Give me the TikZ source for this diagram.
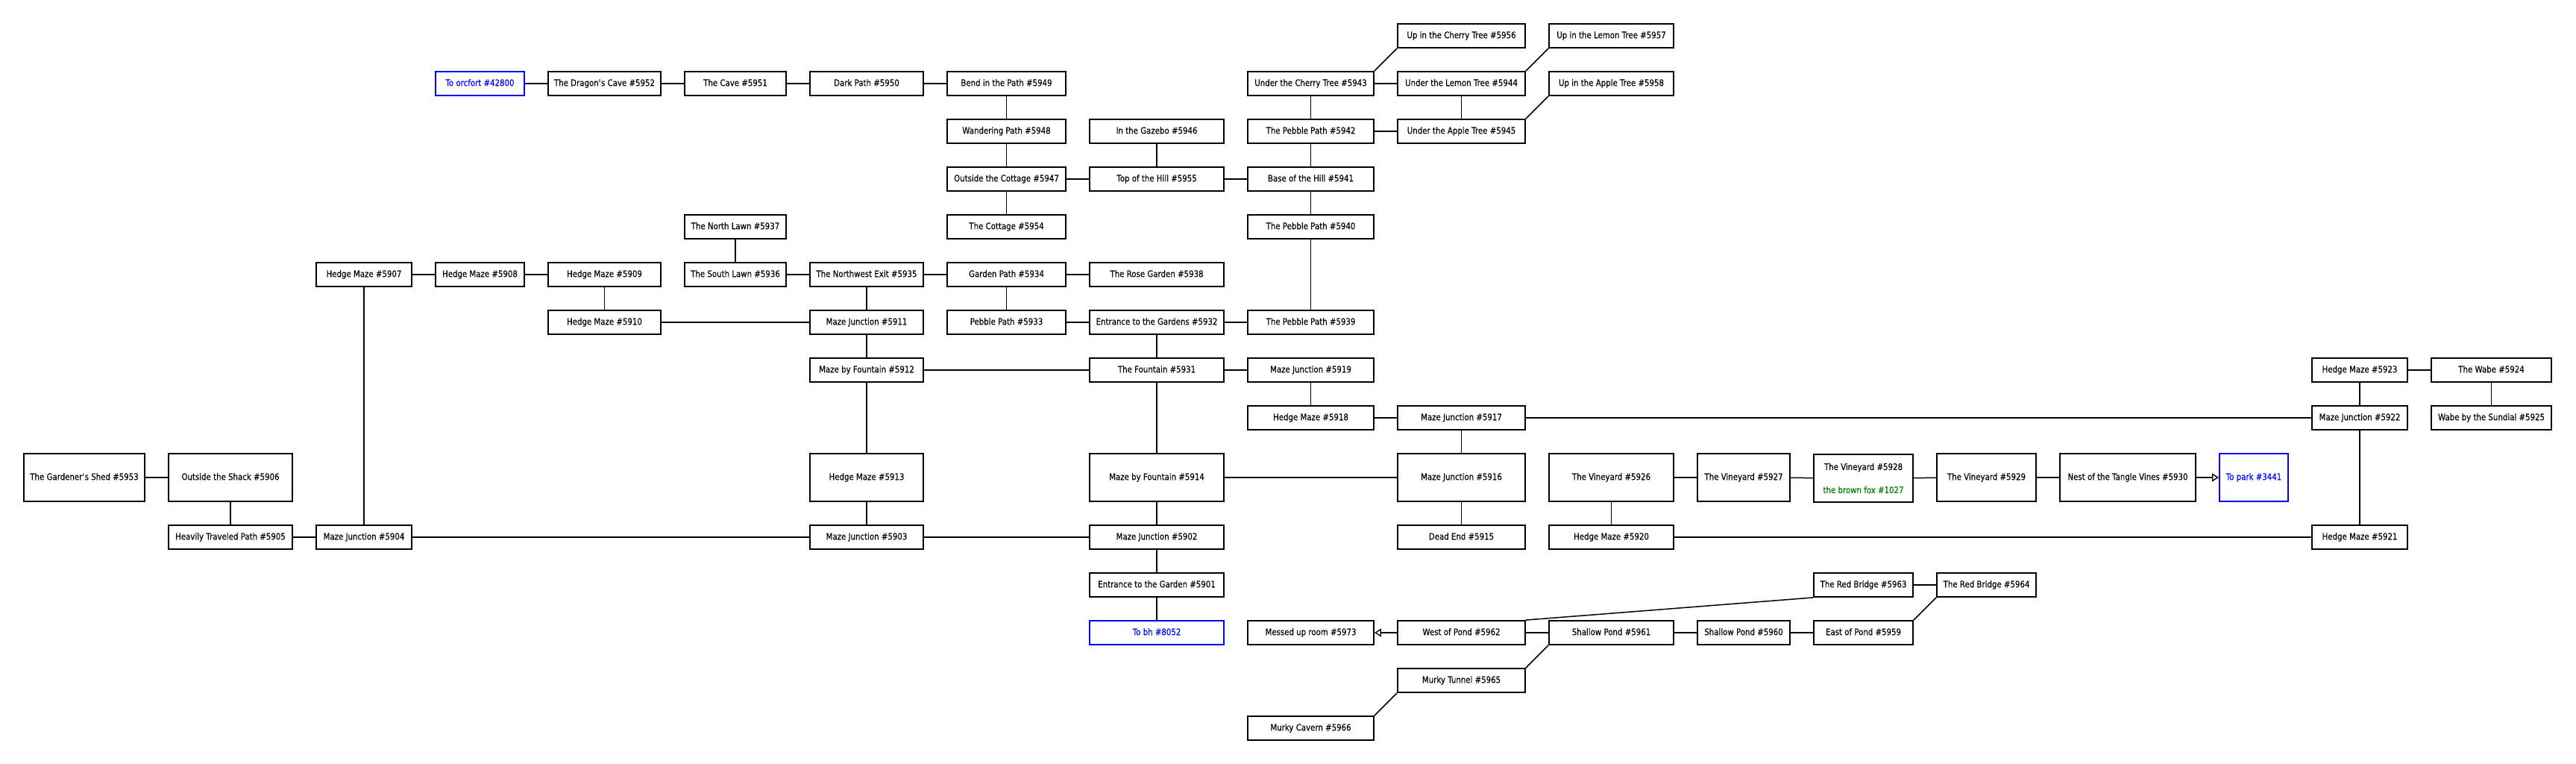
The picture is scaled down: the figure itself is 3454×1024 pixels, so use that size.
\documentclass[tikz,border=0pt]{standalone}
\usepackage{fontspec}
\setmainfont{DejaVu Sans}[FakeStretch=0.85,FakeBold=0.25]
\usetikzlibrary{arrows.meta}
\definecolor{exitblue}{RGB}{0,0,255}
\definecolor{foxgreen}{RGB}{0,128,0}
\tikzset{
  roombase/.style={draw=black, line width=1.9pt, fill=white, inner sep=0pt,
    minimum height=32pt, font=\fontsize{12}{14}\selectfont},
  room/.style={roombase, text height=9pt, text depth=2.5pt},
  tall/.style={minimum height=64pt},
  exitroom/.style={room, draw=exitblue, text=exitblue},
  link/.style={line width=1.5pt},
  oneway/.style={link, -{Triangle[open, length=9pt, width=11pt, line width=1.4pt]}},
  w0/.style={minimum width=162pt}, w1/.style={minimum width=166pt},
  w2/.style={minimum width=128pt}, w3/.style={minimum width=119pt},
  w4/.style={minimum width=151pt}, w5/.style={minimum width=136pt},
  w6/.style={minimum width=152pt}, w7/.style={minimum width=159pt},
  w8/.style={minimum width=180pt}, w9/.style={minimum width=169pt},
  w10/.style={minimum width=171pt}, w11/.style={minimum width=167pt},
  w12/.style={minimum width=124pt}, w13/.style={minimum width=133pt},
  w14/.style={minimum width=133pt}, w15/.style={minimum width=182pt},
  w16/.style={minimum width=92pt}, w17/.style={minimum width=128pt},
  w18/.style={minimum width=161pt}
}
\begin{document}
\begin{tikzpicture}[x=1pt,y=-1pt]
\useasboundingbox[fill=white] (0,0) rectangle (3454,1024);
% row 1
\node[room,w10] (n5956) at (1959.5,48) {Up in the Cherry Tree \#5956};
\node[room,w11] (n5957) at (2160.5,48) {Up in the Lemon Tree \#5957};
% row 2
\node[exitroom,w3] (x42800) at (643.5,112) {To orcfort \#42800};
\node[room,w4] (n5952) at (810.5,112) {The Dragon\textquotesingle s Cave \#5952};
\node[room,w5] (n5951) at (986,112) {The Cave \#5951};
\node[room,w6] (n5950) at (1162,112) {Dark Path \#5950};
\node[room,w7] (n5949) at (1349.5,112) {Bend in the Path \#5949};
\node[room,w9] (n5943) at (1757.5,112) {Under the Cherry Tree \#5943};
\node[room,w10] (n5944) at (1959.5,112) {Under the Lemon Tree \#5944};
\node[room,w11] (n5958) at (2160.5,112) {Up in the Apple Tree \#5958};
% row 3
\node[room,w7] (n5948) at (1349.5,176) {Wandering Path \#5948};
\node[room,w8] (n5946) at (1551,176) {In the Gazebo \#5946};
\node[room,w9] (n5942) at (1757.5,176) {The Pebble Path \#5942};
\node[room,w10] (n5945) at (1959.5,176) {Under the Apple Tree \#5945};
% row 4
\node[room,w7] (n5947) at (1349.5,240) {Outside the Cottage \#5947};
\node[room,w8] (n5955) at (1551,240) {Top of the Hill \#5955};
\node[room,w9] (n5941) at (1757.5,240) {Base of the Hill \#5941};
% row 5
\node[room,w5] (n5937) at (986,304) {The North Lawn \#5937};
\node[room,w7] (n5954) at (1349.5,304) {The Cottage \#5954};
\node[room,w9] (n5940) at (1757.5,304) {The Pebble Path \#5940};
% row 6
\node[room,w2] (n5907) at (488,368) {Hedge Maze \#5907};
\node[room,w3] (n5908) at (643.5,368) {Hedge Maze \#5908};
\node[room,w4] (n5909) at (810.5,368) {Hedge Maze \#5909};
\node[room,w5] (n5936) at (986,368) {The South Lawn \#5936};
\node[room,w6] (n5935) at (1162,368) {The Northwest Exit \#5935};
\node[room,w7] (n5934) at (1349.5,368) {Garden Path \#5934};
\node[room,w8] (n5938) at (1551,368) {The Rose Garden \#5938};
% row 7
\node[room,w4] (n5910) at (810.5,432) {Hedge Maze \#5910};
\node[room,w6] (n5911) at (1162,432) {Maze Junction \#5911};
\node[room,w7] (n5933) at (1349.5,432) {Pebble Path \#5933};
\node[room,w8] (n5932) at (1551,432) {Entrance to the Gardens \#5932};
\node[room,w9] (n5939) at (1757.5,432) {The Pebble Path \#5939};
% row 8
\node[room,w6] (n5912) at (1162,496) {Maze by Fountain \#5912};
\node[room,w8] (n5931) at (1551,496) {The Fountain \#5931};
\node[room,w9] (n5919) at (1757.5,496) {Maze Junction \#5919};
\node[room,w17] (n5923) at (3164,496) {Hedge Maze \#5923};
\node[room,w18] (n5924) at (3340.5,496) {The Wabe \#5924};
% row 9
\node[room,w9] (n5918) at (1757.5,560) {Hedge Maze \#5918};
\node[room,w10] (n5917) at (1959.5,560) {Maze Junction \#5917};
\node[room,w17] (n5922) at (3164,560) {Maze Junction \#5922};
\node[room,w18] (n5925) at (3340.5,560) {Wabe by the Sundial \#5925};
% row 10 (tall)
\node[room,tall,w0] (n5953) at (113,640) {The Gardener\textquotesingle s Shed \#5953};
\node[room,tall,w1] (n5906) at (309,640) {Outside the Shack \#5906};
\node[room,tall,w6] (n5913) at (1162,640) {Hedge Maze \#5913};
\node[room,tall,w8] (n5914) at (1551,640) {Maze by Fountain \#5914};
\node[room,tall,w10] (n5916) at (1959.5,640) {Maze Junction \#5916};
\node[room,tall,w11] (n5926) at (2160.5,640) {The Vineyard \#5926};
\node[room,tall,w12] (n5927) at (2338,640) {The Vineyard \#5927};
\node[roombase,tall,w13,align=center,font=\fontsize{12}{31}\selectfont] (n5928) at (2498.5,641) {The Vineyard \#5928\\\textcolor{foxgreen}{the brown fox \#1027}};
\node[room,tall,w14] (n5929) at (2663.5,640) {The Vineyard \#5929};
\node[room,tall,w15] (n5930) at (2853,640) {Nest of the Tangle Vines \#5930};
\node[exitroom,tall,w16] (x3441) at (3022,640) {To park \#3441};
% row 11
\node[room,w1] (n5905) at (309,720) {Heavily Traveled Path \#5905};
\node[room,w2] (n5904) at (488,720) {Maze Junction \#5904};
\node[room,w6] (n5903) at (1162,720) {Maze Junction \#5903};
\node[room,w8] (n5902) at (1551,720) {Maze Junction \#5902};
\node[room,w10] (n5915) at (1959.5,720) {Dead End \#5915};
\node[room,w11] (n5920) at (2160.5,720) {Hedge Maze \#5920};
\node[room,w17] (n5921) at (3164,720) {Hedge Maze \#5921};
% row 12
\node[room,w8] (n5901) at (1551,784) {Entrance to the Garden \#5901};
\node[room,w13] (n5963) at (2498.5,784) {The Red Bridge \#5963};
\node[room,w14] (n5964) at (2663.5,784) {The Red Bridge \#5964};
% row 13
\node[exitroom,w8] (x8052) at (1551,848) {To bh \#8052};
\node[room,w9] (n5973) at (1757.5,848) {Messed up room \#5973};
\node[room,w10] (n5962) at (1959.5,848) {West of Pond \#5962};
\node[room,w11] (n5961) at (2160.5,848) {Shallow Pond \#5961};
\node[room,w12] (n5960) at (2338,848) {Shallow Pond \#5960};
\node[room,w13] (n5959) at (2498.5,848) {East of Pond \#5959};
% row 14, 15
\node[room,w10] (n5965) at (1959.5,912) {Murky Tunnel \#5965};
\node[room,w9] (n5966) at (1757.5,976) {Murky Cavern \#5966};

% connectors
\draw[link] (x42800) -- (n5952);
\draw[link] (n5952) -- (n5951);
\draw[link] (n5951) -- (n5950);
\draw[link] (n5950) -- (n5949);
\draw[link] (n5949) -- (n5948);
\draw[link] (n5948) -- (n5947);
\draw[link] (n5947) -- (n5954);
\draw[link] (n5947) -- (n5955);
\draw[link] (n5955) -- (n5941);
\draw[link] (n5946) -- (n5955);
\draw[link] (n5943) -- (n5944);
\draw[link] (n5943.north east) -- (n5956.south west);
\draw[link] (n5944.north east) -- (n5957.south west);
\draw[link] (n5945.north east) -- (n5958.south west);
\draw[link] (n5943) -- (n5942);
\draw[link] (n5942) -- (n5945);
\draw[link] (n5944) -- (n5945);
\draw[link] (n5942) -- (n5941);
\draw[link] (n5941) -- (n5940);
\draw[link] (n5940) -- (n5939);
\draw[link] (n5937) -- (n5936);
\draw[link] (n5907) -- (n5908);
\draw[link] (n5908) -- (n5909);
\draw[link] (n5909) -- (n5910);
\draw[link] (n5936) -- (n5935);
\draw[link] (n5935) -- (n5934);
\draw[link] (n5934) -- (n5938);
\draw[link] (n5935) -- (n5911);
\draw[link] (n5934) -- (n5933);
\draw[link] (n5910) -- (n5911);
\draw[link] (n5933) -- (n5932);
\draw[link] (n5932) -- (n5939);
\draw[link] (n5911) -- (n5912);
\draw[link] (n5932) -- (n5931);
\draw[link] (n5912) -- (n5931);
\draw[link] (n5931) -- (n5919);
\draw[link] (n5919) -- (n5918);
\draw[link] (n5918) -- (n5917);
\draw[link] (n5917) -- (n5922);
\draw[link] (n5923) -- (n5924);
\draw[link] (n5923) -- (n5922);
\draw[link] (n5924) -- (n5925);
\draw[link] (n5922) -- (n5921);
\draw[link] (n5917) -- (n5916);
\draw[link] (n5912) -- (n5913);
\draw[link] (n5931) -- (n5914);
\draw[link] (n5914) -- (n5916);
\draw[link] (n5916) -- (n5915);
\draw[link] (n5953) -- (n5906);
\draw[link] (n5906) -- (n5905);
\draw[link] (n5905) -- (n5904);
\draw[link] (n5907) -- (n5904);
\draw[link] (n5904) -- (n5903);
\draw[link] (n5913) -- (n5903);
\draw[link] (n5903) -- (n5902);
\draw[link] (n5914) -- (n5902);
\draw[link] (n5902) -- (n5901);
\draw[link] (n5901) -- (x8052);
\draw[link] (n5926) -- (n5927);
\draw[link] (n5927) -- (n5928);
\draw[link] (n5928) -- (n5929);
\draw[link] (n5929) -- (n5930);
\draw[oneway] (n5930) -- (x3441);
\draw[link] (n5926) -- (n5920);
\draw[link] (n5920) -- (n5921);
\draw[oneway] (n5962) -- (n5973);
\draw[link] (n5962) -- (n5961);
\draw[link] (n5961) -- (n5960);
\draw[link] (n5960) -- (n5959);
\draw[link] (n5963) -- (n5964);
\draw[link] (n5962.north east) -- (n5963.south west);
\draw[link] (n5959.north east) -- (n5964.south west);
\draw[link] (n5961.south west) -- (n5965.north east);
\draw[link] (n5965.south west) -- (n5966.north east);
\end{tikzpicture}
\end{document}
